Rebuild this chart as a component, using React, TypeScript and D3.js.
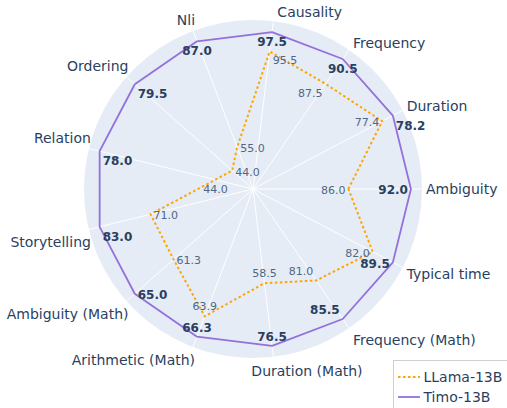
import React from 'react';
import * as d3 from 'd3';

// Categories in counter-clockwise order starting at 3 o'clock
const categories = [
  'Ambiguity', 'Duration', 'Frequency', 'Causality', 'Nli', 'Ordering', 'Relation',
  'Storytelling', 'Ambiguity (Math)', 'Arithmetic (Math)', 'Duration (Math)',
  'Frequency (Math)', 'Typical time',
];
const seriesNames = ['LLama-13B', 'Timo-13B'];

// Printed scores
const timoScores = [92.0, 78.2, 90.5, 97.5, 87.0, 79.5, 78.0, 83.0, 65.0, 66.3, 76.5, 85.5, 89.5];
const llamaScores = [86.0, 77.4, 87.5, 95.5, 55.0, 44.0, 44.0, 71.0, 61.3, 63.9, 58.5, 81.0, 82.0];

// Plotted (normalised) radial values
const timoRadial = [1, 1, 1, 1, 1, 1, 1, 1, 1, 1, 1, 1, 1];
const llamaRadial = [0.604, 0.924, 0.809, 0.877, 0.283, 0.176, 0.245, 0.668, 0.672, 0.862, 0.601, 0.704, 0.856];

// Text positions (plotly-like)
const timoTextPos = ['middle left', 'bottom right', 'bottom center', 'bottom center', 'bottom center', 'bottom right', 'bottom right', 'bottom right', 'middle right', 'top center', 'top center', 'top left', 'middle left'];
const llamaTextPos = ['middle left', 'middle left', 'bottom left', 'bottom right', 'middle right', 'middle right', 'bottom center', 'middle right', 'middle right', 'top center', 'top center', 'top left', 'middle left'];

const W = 507;
const H = 408;
const CX = 253;
const CY = 189;
const R = 169;
const FONT = '"DejaVu Sans", Verdana, sans-serif';
const INK = '#2a3f5f';

// layout nudge for a tick label that the original renderer shifted
const labelNudgeX: Record<string, number> = { 'Duration (Math)': -26 };

const n = categories.length;
const angleScale = d3.scaleLinear().domain([0, n]).range([0, 2 * Math.PI]);
const rScale = d3.scaleLinear().domain([0, 1.07]).range([0, R]);

const pt = (i: number, v: number) => {
  const a = angleScale(i);
  const r = rScale(v);
  return [CX + r * Math.cos(a), CY - r * Math.sin(a)];
};

const lineGen = d3
  .lineRadial<number>()
  .angle((_, i) => Math.PI / 2 - angleScale(i))
  .radius((d) => rScale(d))
  .curve(d3.curveLinearClosed);

function textAttrs(pos: string, x: number, y: number, big: boolean) {
  const [vert, hor] = pos.split(' ');
  let anchor = 'middle';
  let tx = x;
  if (hor === 'left') { anchor = 'end'; tx = x - 3; }
  if (hor === 'right') { anchor = 'start'; tx = x + 3; }
  let ty = y;
  if (vert === 'top') ty = y - (big ? 5 : 6);
  if (vert === 'middle') ty = y + (big ? 5.4 : 5);
  if (vert === 'bottom') ty = y + (big ? 14 : 13);
  return { x: tx, y: ty, textAnchor: anchor };
}

function catLabel(i: number) {
  const a = angleScale(i);
  const c = Math.cos(a);
  const s = Math.sin(a);
  const ex = CX + R * c;
  const ey = CY - R * s;
  let anchor = 'middle';
  let x = ex;
  let v = 0;
  if (c > 0) {
    anchor = 'start';
    x = ex + 4;
    v = s > 0 ? -s * 9 : -s * 14;
  } else {
    anchor = 'end';
    x = ex + 2;
    v = -Math.sign(s) * Math.min(11, 45 * Math.abs(s)) + (s < 0 ? 2 : 0);
  }
  x += labelNudgeX[categories[i]] || 0;
  return { x, y: ey + v + 5, anchor };
}

export default function App() {
  const llamaPath = lineGen(llamaRadial) || '';
  const timoPath = lineGen(timoRadial) || '';
  return (
    <svg
      width={W}
      height={H}
      style={{ position: 'absolute', left: 0, top: 0, display: 'block', background: '#fff' }}
      fontFamily={FONT}
    >
      <circle cx={CX} cy={CY} r={R} fill="#E5ECF6" />
      {categories.map((c, i) => {
        const [x2, y2] = pt(i, 1.07);
        return <line key={c} x1={CX} y1={CY} x2={x2} y2={y2} stroke="#fff" strokeWidth={1} />;
      })}
      <g transform={`translate(${CX},${CY})`}>
        <path d={llamaPath} fill="none" stroke="orange" strokeWidth={2} strokeDasharray="2.5,2.5" />
        <path d={timoPath} fill="none" stroke="mediumpurple" strokeWidth={1.8} strokeLinejoin="round" />
      </g>
      {llamaScores.map((v, i) => {
        const [x, y] = pt(i, llamaRadial[i]);
        const t = textAttrs(llamaTextPos[i], x, y, false);
        return (
          <text key={'l' + i} x={t.x} y={t.y} textAnchor={t.textAnchor} fontSize={11} fill="#506784">
            {v.toFixed(1)}
          </text>
        );
      })}
      {timoScores.map((v, i) => {
        const [x, y] = pt(i, timoRadial[i]);
        const t = textAttrs(timoTextPos[i], x, y, true);
        return (
          <text key={'t' + i} x={t.x} y={t.y} textAnchor={t.textAnchor} fontSize={12} fontWeight="bold" fill={INK}>
            {v.toFixed(1)}
          </text>
        );
      })}
      {categories.map((c, i) => {
        const l = catLabel(i);
        return (
          <text key={'c' + i} x={l.x} y={l.y} textAnchor={l.anchor} fontSize={14} fill={INK}>
            {c}
          </text>
        );
      })}
      <g>
        <rect x={393.5} y={360.5} width={130} height={60} fill="#fff" stroke="#cfcfcf" strokeWidth={1} />
        <line x1={398} x2={420} y1={377} y2={377} stroke="orange" strokeWidth={2} strokeDasharray="2.5,2.5" />
        <text x={423.5} y={382} fontSize={14} fill={INK}>{seriesNames[0]}</text>
        <line x1={398} x2={420} y1={397} y2={397} stroke="mediumpurple" strokeWidth={1.8} />
        <text x={423.5} y={402} fontSize={14} fill={INK}>{seriesNames[1]}</text>
      </g>
    </svg>
  );
}
